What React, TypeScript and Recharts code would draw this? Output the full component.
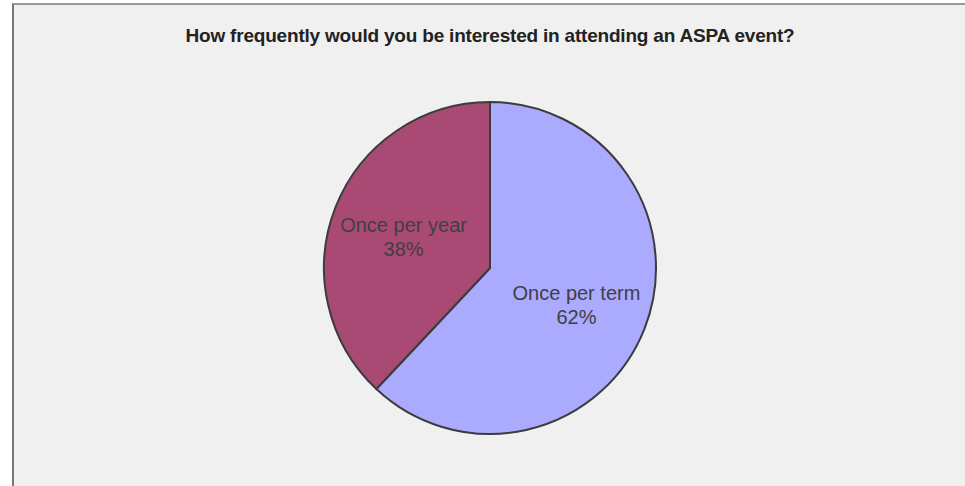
import { PieChart, Pie, Cell } from "recharts";

const answers = ["Once per term", "Once per year"];
const shares = [62, 38];
const sliceColors = ["#aaaaff", "#a94a75"];

const data = answers.map((name, i) => ({ name, value: shares[i] }));

const RAD = Math.PI / 180;

const renderLabel = (props: any) => {
  const { cx, cy, midAngle, outerRadius, name, percent } = props;
  const r = outerRadius * 0.56;
  const x = cx + r * Math.cos(-midAngle * RAD);
  const y = cy + r * Math.sin(-midAngle * RAD);
  return (
    <text
      x={x}
      y={y}
      textAnchor="middle"
      fill="#404040"
      fontSize={20}
      fontFamily="'Liberation Sans', Arial, sans-serif"
    >
      <tspan x={x} dy={-2}>
        {name}
      </tspan>
      <tspan x={x} dy={24}>
        {Math.round(percent * 100)}%
      </tspan>
    </text>
  );
};

const App = () => {
  return (
    <div
      style={{
        position: "absolute",
        left: 0,
        top: 0,
        width: 965,
        height: 486,
        overflow: "hidden",
        background: "#ffffff",
      }}
    >
      <div
        style={{
          position: "absolute",
          left: 12,
          top: 3,
          width: 1000,
          height: 520,
          background: "#f0f0f0",
          borderTop: "2px solid #999",
          borderLeft: "2px solid #777",
        }}
      />
      <div
        style={{
          position: "absolute",
          left: 0,
          top: 25,
          width: 980,
          textAlign: "center",
          fontFamily: "'Liberation Sans', Arial, sans-serif",
          fontWeight: "bold",
          fontSize: 19,
          letterSpacing: -0.2,
          color: "#222",
        }}
      >
        How frequently would you be interested in attending an ASPA event?
      </div>
      <div style={{ position: "absolute", left: 0, top: 0 }}>
        <PieChart width={965} height={486}>
          <Pie
            data={data}
            dataKey="value"
            nameKey="name"
            cx={485}
            cy={263}
            outerRadius={166}
            startAngle={90}
            endAngle={-270}
            label={renderLabel}
            labelLine={false}
            isAnimationActive={false}
          >
            {data.map((d, i) => (
              <Cell key={d.name} fill={sliceColors[i]} stroke="#3c3c3c" strokeWidth={2} />
            ))}
          </Pie>
        </PieChart>
      </div>
    </div>
  );
};

export default App;
